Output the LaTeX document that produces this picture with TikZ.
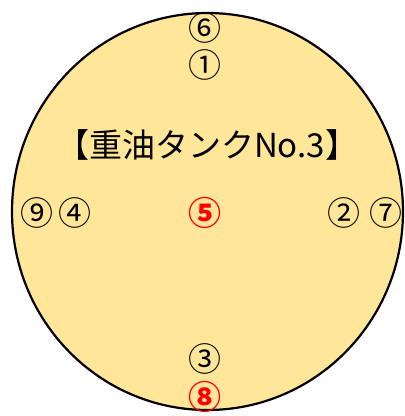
\documentclass[tikz,border=0pt]{standalone}
\usepackage{fontspec}
\setmainfont{Noto Sans CJK JP}
\usetikzlibrary{positioning}
\definecolor{tankfill}{RGB}{255,230,153}
\tikzset{
  tank/.style={draw,line width=2.2pt,fill=tankfill},
  nozzle/.style={inner sep=0pt,font=\fontsize{33}{36}\selectfont},
  hot/.style={nozzle,text=red,font=\fontsize{33}{36}\selectfont\bfseries},
  title/.style={inner sep=0pt,font=\fontsize{33}{36}\selectfont},
}
\begin{document}
\begin{tikzpicture}[x=1pt,y=-1pt]
  \useasboundingbox (0,0) rectangle (405,416);
  \draw[tank] (207.5,211.5) ellipse [x radius=195.5,y radius=198.5];
  \node[title] (name) at (207,145) {【重油タンクNo.3】};
  % nozzles
  \node[nozzle] (n6) at (205,28) {⑥};
  \node[nozzle] (n1) at (205,65) {①};
  \node[nozzle] (n9) at (37,213) {⑨};
  \node[nozzle] (n4) at (75,213) {④};
  \node[hot]    (n5) at (205,213) {⑤};
  \node[nozzle] (n2) at (344,213) {②};
  \node[nozzle] (n7) at (386,213) {⑦};
  \node[nozzle] (n3) at (205,359) {③};
  \node[hot]    (n8) at (205,397) {⑧};
\end{tikzpicture}
\end{document}
